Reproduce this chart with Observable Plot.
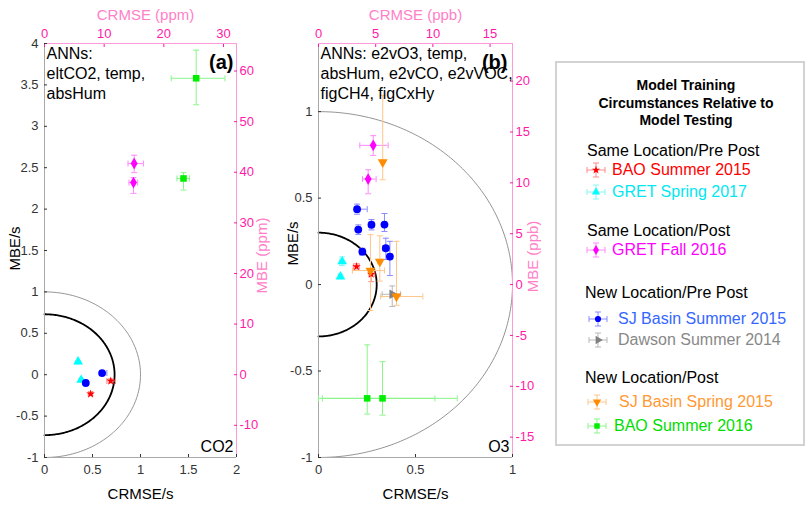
<!DOCTYPE html>
<html>
<head>
<meta charset="utf-8">
<script src="https://cdn.jsdelivr.net/npm/d3@7"></script>
<script src="https://cdn.jsdelivr.net/npm/@observablehq/plot@0.6"></script>
<style>
  body { margin: 0; background: #fff; font-family: "Liberation Sans", Arial, sans-serif; }
  #root { position: relative; width: 807px; height: 508px; overflow: hidden; background: #fff; }
  .panel { position: absolute; top: 0; }
  #legendBox { position: absolute; left: 555px; top: 61px; width: 250px; height: 385px; border: 2px solid #d2d2d2; box-sizing: border-box; }
  .lg { position: absolute; white-space: nowrap; line-height: 20px; font-size: 16px; }
  .lgTitle { position: absolute; white-space: nowrap; font-weight: bold; font-size: 14px; text-align: center; line-height: 17.5px; transform: translateX(-50%); }
  .icon { position: absolute; }
</style>
</head>
<body>
<div id="root">
  <div id="legendBox"></div>
</div>
<script>
// ---------- series definitions ----------
const seriesNames = ["BAO Summer 2015", "GRET Spring 2017", "GRET Fall 2016", "SJ Basin Summer 2015", "Dawson Summer 2014", "SJ Basin Spring 2015", "BAO Summer 2016"];
const seriesColors = ["#ff0000", "#00ffff", "#ff00ff", "#0000ff", "#808080", "#ff8c00", "#00ee00"];
const errColors = ["#ff8a8a", "#8af5f5", "#ff8aff", "#8a8aff", "#b8b8b8", "#ffc68a", "#8af58a"];
const legendTextColors = ["#ff0000", "#00e8f0", "#ff00ff", "#3366ff", "#888888", "#ff9933", "#00dd00"];
const seriesSymbols = ["star", "triangle", "diamond", "circle", "triangle", "triangle", "square"];
const seriesRotate = [0, 0, 0, 0, 90, 180, 0];
const seriesR = [2.7, 3.6, 3.6, 3.9, 3.6, 3.7, 3.7];
const legendGroups = ["Same Location/Pre Post", "Same Location/Post", "New Location/Pre Post", "New Location/Post"];
const legendTitle = ["Model Training", "Circumstances Relative to", "Model Testing"];

// ---------- panel (a): CO2 ----------
const co2Series = [0, 0, 1, 1, 2, 2, 3, 3, 6, 6];
const co2X   = [0.69, 0.48, 0.35, 0.382, 0.934, 0.927, 0.60, 0.43, 1.58, 1.448];
const co2Y   = [-0.076, -0.233, 0.157, -0.064, 2.55, 2.32, 0.02, -0.10, 3.58, 2.37];
const co2XLo = [0.65, 0.46, 0.34, 0.37, 0.87, 0.88, 0.58, 0.42, 1.32, 1.38];
const co2XHi = [0.74, 0.50, 0.36, 0.39, 1.03, 0.97, 0.65, 0.44, 1.88, 1.51];
const co2YLo = [-0.10, -0.25, 0.14, -0.08, 2.44, 2.19, 0.0, -0.11, 3.26, 2.23];
const co2YHi = [-0.05, -0.21, 0.17, -0.05, 2.65, 2.38, 0.04, -0.09, 3.92, 2.44];

// ---------- panel (b): O3 ----------
const o3Series = [0, 0, 1, 1, 2, 2, 3, 3, 3, 3, 3, 3, 3, 4, 5, 5, 5, 5, 6, 6];
const o3X   = [0.196, 0.272, 0.122, 0.113, 0.282, 0.256, 0.199, 0.205, 0.273, 0.340, 0.347, 0.368, 0.226, 0.38, 0.331, 0.268, 0.316, 0.402, 0.251, 0.33];
const o3Y   = [0.104, 0.06, 0.133, 0.046, 0.805, 0.61, 0.436, 0.318, 0.346, 0.347, 0.21, 0.162, 0.19, -0.056, 0.708, 0.081, 0.133, -0.069, -0.658, -0.658];
const o3XLo = [0.18, 0.26, 0.11, 0.105, 0.213, 0.227, 0.185, 0.195, 0.26, 0.33, 0.33, 0.355, 0.215, 0.328, 0.325, 0.175, 0.305, 0.32, 0, 0.02];
const o3XHi = [0.21, 0.29, 0.13, 0.12, 0.359, 0.297, 0.251, 0.215, 0.285, 0.35, 0.365, 0.38, 0.235, 0.423, 0.337, 0.34, 0.325, 0.538, 0.6, 0.715];
const o3YLo = [0.09, 0.017, 0.11, 0.035, 0.747, 0.525, 0.407, 0.29, 0.316, 0.307, 0.145, 0.052, 0.17, -0.127, 0.606, -0.15, 0.02, -0.12, -0.749, -0.755];
const o3YHi = [0.12, 0.087, 0.16, 0.06, 0.861, 0.664, 0.465, 0.345, 0.376, 0.411, 0.268, 0.25, 0.21, -0.008, 1.094, 0.288, 0.282, 0.25, -0.349, -0.446];

// ---------- ticks ----------
const aXTicks = [0, 0.5, 1, 1.5, 2];
const aYTicks = [-1, -0.5, 0, 0.5, 1, 1.5, 2, 2.5, 3, 3.5, 4];
const aTopTicks = [0, 10, 20, 30];
const aRightTicks = [-10, 0, 10, 20, 30, 40, 50, 60];
const bXTicks = [0, 0.5, 1];
const bYTicks = [-1, -0.5, 0, 0.5, 1];
const bTopTicks = [0, 5, 10, 15];
const bRightTicks = [-15, -10, -5, 0, 5, 10, 15, 20];
// normalisation factors s (ppm or ppb per unit of CRMSE/s, MBE/s)
const aTopScale = 16.09, aRightScale = 16.36;
const bTopScale = 16.96, bRightScale = 17.0;
// reference circle radii
const aRadii = [0.73, 1];
const bRadii = [0.3, 1];

const PINK_TICK = "#ff1aa8", PINK_LABEL = "#ff80c8", PINK_LINE = "#ff9ad8";
const GRAY_LINE = "#a8a8a8", TICK_TXT = "#333";
const FONT = "Liberation Sans, Arial, sans-serif";

function rowsOf(series, X, Y, XLo, XHi, YLo, YHi) {
  return X.map((x, i) => ({s: series[i], x, y: Y[i], xlo: XLo[i], xhi: XHi[i], ylo: YLo[i], yhi: YHi[i]}));
}

const hCap = {draw(ctx, size) { const r = Math.sqrt(size) / 2; ctx.moveTo(-r, 0); ctx.lineTo(r, 0); }};
const vCap = {draw(ctx, size) { const r = Math.sqrt(size) / 2; ctx.moveTo(0, -r); ctx.lineTo(0, r); }};

function panel(o) {
  const marks = [];
  const [x0, x1] = o.xDomain, [y0, y1] = o.yDomain;
  // reference semicircles
  o.radii.forEach((r, i) => {
    const pts = d3.range(-90, 90.5, 1).map(a => ({x: r * Math.cos(a * Math.PI / 180), y: r * Math.sin(a * Math.PI / 180)}));
    marks.push(Plot.line(pts, {x: "x", y: "y", stroke: i === 0 ? "#000" : "#777", strokeWidth: i === 0 ? 1.8 : 0.8}));
  });
  // frame
  marks.push(Plot.ruleX([x0], {stroke: GRAY_LINE}));
  marks.push(Plot.ruleY([y0], {stroke: GRAY_LINE}));
  marks.push(Plot.ruleX([x1], {stroke: PINK_LINE}));
  marks.push(Plot.ruleY([y1], {stroke: PINK_LINE}));
  // axes
  const fmt = d => String(d);
  marks.push(Plot.axisX(o.xTicks, {anchor: "bottom", tickSize: -3, tickPadding: 10, tickFormat: fmt, label: null, color: TICK_TXT, fontSize: 13}));
  marks.push(Plot.axisY(o.yTicks, {anchor: "left", tickSize: -3, tickPadding: 9, tickFormat: fmt, label: null, color: TICK_TXT, fontSize: 13}));
  marks.push(Plot.axisX(o.topTicks.map(v => v / o.topScale), {anchor: "top", tickSize: -3, tickPadding: 9, tickFormat: d => String(Math.round(d * o.topScale)), label: null, color: PINK_TICK, fontSize: 13}));
  marks.push(Plot.axisY(o.rightTicks.map(v => v / o.rightScale), {anchor: "right", tickSize: -3, tickPadding: 6, tickFormat: d => String(Math.round(d * o.rightScale)), label: null, color: PINK_TICK, fontSize: 13}));
  // error bars
  for (let k = 0; k < seriesNames.length; k++) {
    const rs = o.rows.filter(r => r.s === k);
    if (!rs.length) continue;
    marks.push(Plot.ruleX(rs, {x: "x", y1: "ylo", y2: "yhi", stroke: errColors[k], strokeWidth: 1}));
    marks.push(Plot.ruleY(rs, {y: "y", x1: "xlo", x2: "xhi", stroke: errColors[k], strokeWidth: 1}));
    marks.push(Plot.dot(rs, {x: "x", y: "ylo", symbol: hCap, r: 3.4, stroke: errColors[k], fill: "none", strokeWidth: 1}));
    marks.push(Plot.dot(rs, {x: "x", y: "yhi", symbol: hCap, r: 3.4, stroke: errColors[k], fill: "none", strokeWidth: 1}));
    marks.push(Plot.dot(rs, {x: "xlo", y: "y", symbol: vCap, r: 3.4, stroke: errColors[k], fill: "none", strokeWidth: 1}));
    marks.push(Plot.dot(rs, {x: "xhi", y: "y", symbol: vCap, r: 3.4, stroke: errColors[k], fill: "none", strokeWidth: 1}));
  }
  // markers
  for (let k = 0; k < seriesNames.length; k++) {
    const rs = o.rows.filter(r => r.s === k);
    if (!rs.length) continue;
    marks.push(Plot.dot(rs, {x: "x", y: "y", symbol: seriesSymbols[k], r: seriesR[k], rotate: seriesRotate[k], fill: seriesColors[k], stroke: "none"}));
  }
  // texts
  marks.push(Plot.text([o.annot], {frameAnchor: "top-left", dx: 2, dy: 1, textAnchor: "start", lineAnchor: "top", fontSize: 16, lineHeight: 1.25, fill: "#000"}));
  marks.push(Plot.text([o.tag], {frameAnchor: "top-right", dx: o.tagDx, dy: 25, textAnchor: "end", lineAnchor: "bottom", fontSize: 20, fontWeight: "bold", fill: "#000"}));
  marks.push(Plot.text([o.gas], {frameAnchor: "bottom-right", dx: -3, dy: -6, textAnchor: "end", lineAnchor: "bottom", fontSize: 16, fill: "#000"}));
  marks.push(Plot.text(["CRMSE/s"], {frameAnchor: "bottom", dy: 37, textAnchor: "middle", lineAnchor: "middle", fontSize: 15, fill: "#000"}));
  marks.push(Plot.text(["MBE/s"], {frameAnchor: "left", dx: o.mbeDx, dy: o.mbeDy, rotate: -90, textAnchor: "middle", lineAnchor: "middle", fontSize: 15, fill: "#000"}));
  marks.push(Plot.text([o.topLabel], {frameAnchor: "top", dx: o.topDx, dy: -28, textAnchor: "middle", lineAnchor: "middle", fontSize: 15, fill: PINK_LABEL}));
  marks.push(Plot.text([o.rightLabel], {frameAnchor: "right", dx: o.rDx, dy: o.rDy, rotate: -90, textAnchor: "middle", lineAnchor: "middle", fontSize: 15, fill: PINK_LABEL}));

  const svg = Plot.plot({
    width: o.width, height: 508,
    marginTop: 43, marginBottom: 51, marginLeft: o.mL, marginRight: o.mR,
    x: {domain: o.xDomain},
    y: {domain: o.yDomain},
    style: {fontFamily: FONT, fontSize: "13px", background: "transparent", overflow: "visible"},
    marks
  });
  svg.classList.add("panel");
  svg.style.left = o.left + "px";
  document.getElementById("root").appendChild(svg);
}

panel({
  left: 0, width: 260, mL: 44, mR: 24,
  xDomain: [0, 2], yDomain: [-1, 4],
  rows: rowsOf(co2Series, co2X, co2Y, co2XLo, co2XHi, co2YLo, co2YHi),
  xTicks: aXTicks, yTicks: aYTicks, topTicks: aTopTicks, topScale: aTopScale, rightTicks: aRightTicks, rightScale: aRightScale,
  radii: aRadii, annot: "ANNs:\neltCO2, temp,\nabsHum", tag: "(a)", tagDx: -3, gas: "CO2",
  topLabel: "CRMSE (ppm)", topDx: 5, rightLabel: "MBE (ppm)", rDx: 26, rDy: 5, mbeDx: -29, mbeDy: -2
});
panel({
  left: 270, width: 290, mL: 48, mR: 48,
  xDomain: [0, 1], yDomain: [-1, 1.394],
  rows: rowsOf(o3Series, o3X, o3Y, o3XLo, o3XHi, o3YLo, o3YHi),
  xTicks: bXTicks, yTicks: bYTicks, topTicks: bTopTicks, topScale: bTopScale, rightTicks: bRightTicks, rightScale: bRightScale,
  radii: bRadii, annot: "ANNs: e2vO3, temp,\nabsHum, e2vCO, e2vVOC,\nfigCH4, figCxHy", tag: "(b)", tagDx: -5, gas: "O3",
  topLabel: "CRMSE (ppb)", topDx: 0, rightLabel: "MBE (ppb)", rDx: 21, rDy: 6, mbeDx: -25, mbeDy: -7
});

// ---------- legend ----------
const root = document.getElementById("root");
legendTitle.forEach((t, i) => {
  const d = document.createElement("div");
  d.className = "lgTitle";
  d.textContent = t;
  d.style.left = "686px";
  d.style.top = (77 + i * 17.5) + "px";
  root.appendChild(d);
});
const legendLayout = [
  {g: 0, y: 151, x: 587},
  {k: 0, y: 170, x: 612, ix: 596},
  {k: 1, y: 192, x: 612, ix: 596},
  {g: 1, y: 231, x: 587},
  {k: 2, y: 250, x: 612, ix: 596},
  {g: 2, y: 293, x: 585},
  {k: 3, y: 319, x: 618, ix: 598},
  {k: 4, y: 340, x: 618, ix: 598},
  {g: 3, y: 378, x: 585},
  {k: 5, y: 402, x: 619, ix: 597},
  {k: 6, y: 426, x: 614, ix: 597}
];
const d3Sym = {star: d3.symbolStar, triangle: d3.symbolTriangle, diamond: d3.symbolDiamond, circle: d3.symbolCircle, square: d3.symbolSquare};
legendLayout.forEach(e => {
  const d = document.createElement("div");
  d.className = "lg";
  d.style.left = e.x + "px";
  d.style.top = (e.y - 10) + "px";
  if (e.g !== undefined) {
    d.textContent = legendGroups[e.g];
    d.style.color = "#000";
  } else {
    d.textContent = seriesNames[e.k];
    d.style.color = legendTextColors[e.k];
    const svg = d3.create("svg").attr("class", "icon").attr("width", 26).attr("height", 22)
      .style("left", (e.ix - 13) + "px").style("top", (e.y - 11) + "px");
    const c = errColors[e.k];
    const g = svg.append("g").attr("transform", "translate(13,11)").attr("stroke", c).attr("stroke-width", 1);
    g.append("line").attr("x1", -9).attr("x2", 9).attr("y1", 0).attr("y2", 0);
    g.append("line").attr("x1", -9).attr("x2", -9).attr("y1", -3).attr("y2", 3);
    g.append("line").attr("x1", 9).attr("x2", 9).attr("y1", -3).attr("y2", 3);
    g.append("line").attr("x1", 0).attr("x2", 0).attr("y1", -7).attr("y2", 7);
    g.append("line").attr("x1", -3).attr("x2", 3).attr("y1", -7).attr("y2", -7);
    g.append("line").attr("x1", -3).attr("x2", 3).attr("y1", 7).attr("y2", 7);
    svg.append("path")
      .attr("d", d3.symbol().type(d3Sym[seriesSymbols[e.k]]).size(seriesSymbols[e.k] === "star" ? 22 : 30)())
      .attr("transform", `translate(13,11) rotate(${seriesRotate[e.k]})`)
      .attr("fill", seriesColors[e.k]);
    root.appendChild(svg.node());
  }
  root.appendChild(d);
});
</script>
</body>
</html>
